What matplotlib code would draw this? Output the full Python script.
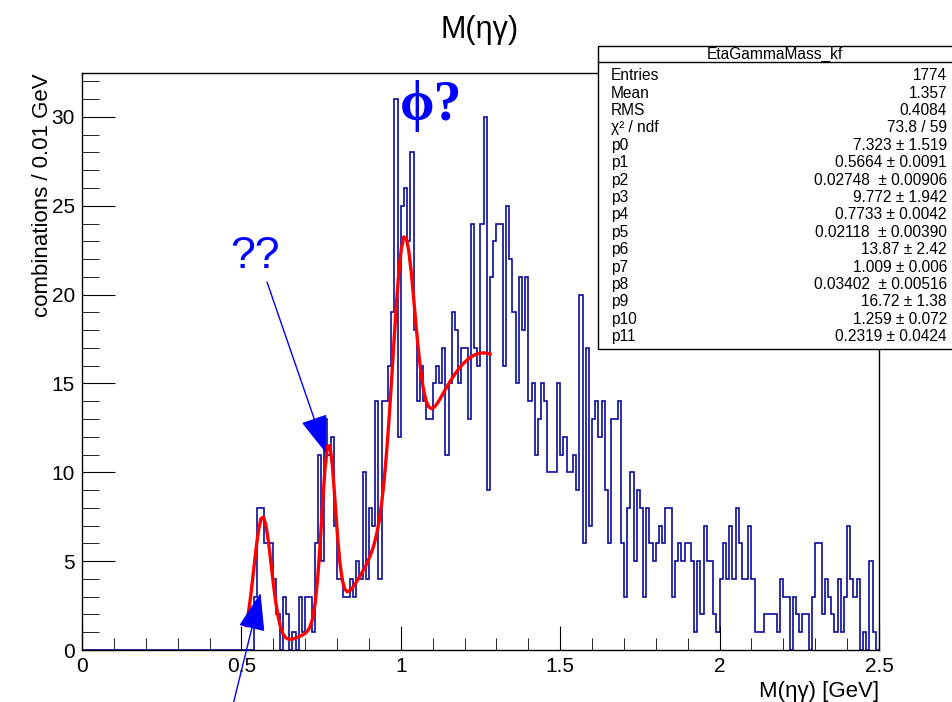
import matplotlib
matplotlib.use('Agg')
import matplotlib.pyplot as plt
import numpy as np
from matplotlib.patches import Rectangle
from matplotlib.lines import Line2D

plt.rcParams['font.family'] = ['Liberation Sans', 'DejaVu Sans']

# histogram EtaGammaMass_kf, 250 bins from 0 to 2.5 GeV
bin_lo, bin_hi, n_bins = 0.0, 2.5, 250
counts = [0] * 54 + [
    3, 8, 8, 6, 6, 6,                      # 54-59
    4, 2, 0, 3, 2, 0, 1, 0, 3, 1,          # 60-69
    3, 3, 1, 6, 11, 5, 13, 11, 12, 7,      # 70-79
    4, 4, 3, 3, 4, 3, 5, 4, 10, 4,         # 80-89
    8, 7, 14, 4, 14, 14, 16, 19, 31, 12,   # 90-99
    25, 26, 23, 28, 18, 14, 16, 14, 13, 13,  # 100-109
    15, 16, 15, 17, 11, 15, 19, 18, 15, 17,  # 110-119
    17, 13, 24, 17, 16, 24, 30, 9, 21, 23,   # 120-129
    24, 24, 16, 25, 22, 19, 15, 21, 18, 21,  # 130-139
    14, 15, 11, 13, 15, 14, 10, 10, 10, 15,  # 140-149
    11, 12, 10, 10, 11, 9, 20, 6, 17, 7,     # 150-159
    13, 14, 12, 14, 9, 6, 13, 13, 14, 6,     # 160-169
    3, 8, 10, 5, 9, 8, 3, 8, 6, 5,           # 170-179
    6, 7, 6, 8, 8, 3, 5, 6, 5, 6,            # 180-189
    6, 5, 1, 5, 2, 7, 5, 5, 2, 1,            # 190-199
    4, 6, 4, 7, 4, 8, 6, 4, 4, 7,            # 200-209
    4, 1, 1, 1, 2, 2, 2, 2, 1, 4,            # 210-219
    3, 3, 0, 3, 2, 1, 2, 2, 0, 3,            # 220-229
    6, 6, 2, 4, 3, 2, 1, 4, 1, 3,            # 230-239
    7, 4, 3, 4, 0, 1, 0, 5, 1, 0,            # 240-249
]

# fit: 4 gaussians, parameters from the stats box
fit_pars = [7.323, 0.5664, 0.02748, 9.772, 0.7733, 0.02118,
            13.87, 1.009, 0.03402, 16.72, 1.259, 0.2319]
fit_range = (0.515, 1.28)

stat_names = ['Entries', 'Mean', 'RMS', 'χ² / ndf', 'p0', 'p1', 'p2', 'p3',
              'p4', 'p5', 'p6', 'p7', 'p8', 'p9', 'p10', 'p11']
stat_vals = ['1774', '1.357', '0.4084', '73.8 / 59', '7.323 ± 1.519',
             '0.5664 ± 0.0091', '0.02748  ± 0.00906', '9.772 ± 1.942',
             '0.7733 ± 0.0042', '0.02118  ± 0.00390', '13.87 ± 2.42',
             '1.009 ± 0.006', '0.03402  ± 0.00516', '16.72 ± 1.38',
             '1.259 ± 0.072', '0.2319 ± 0.0424']


def fitfunc(x, p):
    y = np.zeros_like(x)
    for k in range(0, 12, 3):
        y += p[k] * np.exp(-0.5 * ((x - p[k + 1]) / p[k + 2]) ** 2)
    return y


W, H = 953, 702
fig = plt.figure(figsize=(W / 100, H / 100), dpi=100)
ax = fig.add_axes([82 / W, 1 - 650 / H, (879 - 82) / W, (650 - 73) / H])

edges = np.linspace(bin_lo, bin_hi, n_bins + 1)
ax.stairs(counts, edges, color='#0a0a9c', lw=1.2, baseline=0)

xf = np.linspace(fit_range[0], fit_range[1], 100)
ax.plot(xf, fitfunc(xf, fit_pars), color='red', lw=2.4)

ax.set_xlim(0, 2.5)
ax.set_ylim(0, 32.47)
ax.set_xticks(np.arange(0, 2.51, 0.5))
ax.set_xticklabels(['0', '0.5', '1', '1.5', '2', '2.5'])
ax.set_xticks(np.arange(0, 2.51, 0.1), minor=True)
ax.set_yticks(np.arange(0, 31, 5))
ax.set_yticks(np.arange(0, 33, 1), minor=True)
ax.tick_params(axis='both', which='both', direction='in', labelsize=15,
               top=False, right=False, color='black')
ax.tick_params(axis='x', which='major', length=17, pad=5)
ax.tick_params(axis='x', which='minor', length=9)
ax.tick_params(axis='y', which='major', length=24, pad=5)
ax.tick_params(axis='y', which='minor', length=12)
for s in ax.spines.values():
    s.set_linewidth(1.0)

ax.set_xlabel('M(ηγ) [GeV]', fontsize=16, loc='right', labelpad=4)
ax.set_ylabel('combinations / 0.01 GeV', fontsize=16, loc='top', labelpad=-1)
fig.text(480 / W, 1 - 30 / H, 'M(ηγ)', fontsize=22, ha='center', va='center')

# annotations
fig.text(400 / W, 1 - 120 / H, 'ϕ?', fontsize=40, color='blue',
         fontfamily=['Liberation Serif', 'DejaVu Serif'], fontweight='bold',
         ha='left', va='baseline')
fig.text(255 / W, 1 - 256 / H, '??', fontsize=32, color='blue',
         ha='center', va='center')
arrow_style = dict(arrowstyle='-|>,head_length=2.4,head_width=0.85',
                   mutation_scale=10, lw=1.0, color='blue',
                   shrinkA=0, shrinkB=0)
ax.annotate('', xy=(326, H - 453), xycoords='figure pixels',
            xytext=(267, H - 282), textcoords='figure pixels',
            arrowprops=arrow_style, annotation_clip=False)
ax.annotate('', xy=(260.5, H - 593), xycoords='figure pixels',
            xytext=(230, -15), textcoords='figure pixels',
            arrowprops=arrow_style, annotation_clip=False)

# stats box
bx0, by0, bx1, by1 = 598, 46, 960, 349
fig.add_artist(Rectangle((bx0 / W, 1 - by1 / H), (bx1 - bx0) / W,
                         (by1 - by0) / H, transform=fig.transFigure,
                         facecolor='white', edgecolor='black', lw=1.0,
                         zorder=5))
fig.add_artist(Line2D([bx0 / W, 1], [1 - 62 / H, 1 - 62 / H],
                      transform=fig.transFigure, color='black', lw=1.0,
                      zorder=6))
fig.text(775 / W, 1 - 54 / H, 'EtaGammaMass_kf', fontsize=11.2,
         ha='center', va='center', zorder=7)
for i, (nm, vl) in enumerate(zip(stat_names, stat_vals)):
    yy = 1 - (75.7 + 17.4 * i) / H
    fig.text(611 / W, yy, nm, fontsize=11.2, ha='left', va='center', zorder=7)
    fig.text(947 / W, yy, vl, fontsize=11.2, ha='right', va='center', zorder=7)

fig.savefig('out.png', dpi=100, facecolor='white')
